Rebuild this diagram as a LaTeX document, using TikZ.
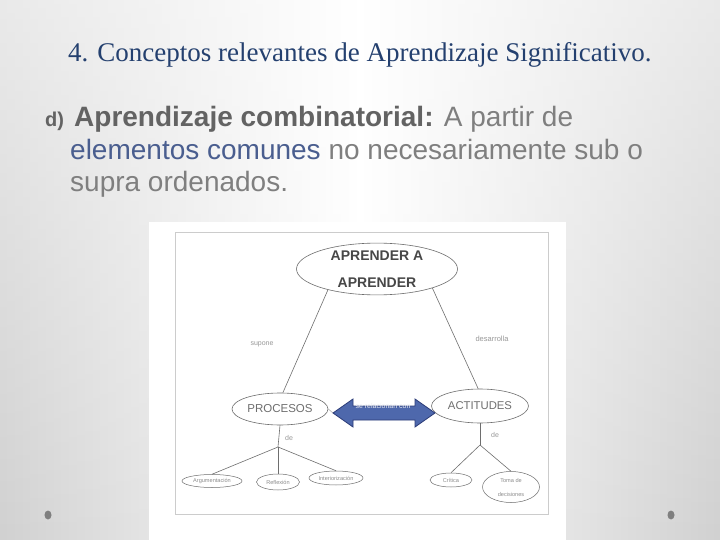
\documentclass[tikz,border=0pt]{standalone}
\usepackage{fontspec}
\setmainfont{Liberation Serif}
\setsansfont{Liberation Sans}
\usetikzlibrary{shapes.geometric,calc,fadings}
\definecolor{titleblue}{HTML}{24406F}
\definecolor{txtgrey}{HTML}{7F7F7F}
\definecolor{boldgrey}{HTML}{636363}
\definecolor{linkblue}{HTML}{4A5E8F}
\definecolor{bggrey}{HTML}{D0D0D0}
\definecolor{diagline}{HTML}{6E6E6E}
\definecolor{arrfill}{HTML}{4E68AC}
\definecolor{arrdraw}{HTML}{2C3C78}
\tikzset{
  conc/.style={ellipse,draw=diagline,line width=0.6pt,inner sep=0pt,font=\sffamily,text=diagline},
  smallc/.style={conc,line width=0.5pt,font=\sffamily\fontsize{5.6}{6}\selectfont,text=txtgrey!90},
  lbl/.style={font=\sffamily\fontsize{7}{8}\selectfont,text=txtgrey!80,inner sep=0pt},
  link/.style={draw=diagline,line width=0.6pt},
  dot/.style={ellipse,fill=txtgrey,inner sep=0pt,minimum width=7pt,minimum height=9pt}
}
\begin{document}
\begin{tikzpicture}[x=1pt,y=-1pt]
\useasboundingbox (0,0) rectangle (720,540);
% background
\shade[left color=bggrey,right color=bggrey,middle color=white] (-5,-5) rectangle (725,545);
\fill[white,opacity=0.55,path fading=south] (-5,-5) rectangle (725,545);
% title
\node[anchor=base west,inner sep=0pt,text=titleblue,font=\fontsize{27}{30}\selectfont] (title) at (68,62) {4. Conceptos relevantes de Aprendizaje Significativo.};
% body text
\node[anchor=base west,inner sep=0pt,text=boldgrey,font=\sffamily\bfseries\fontsize{20}{22}\selectfont] (dd) at (45,127) {d)};
\node[anchor=base west,inner sep=0pt,font=\sffamily\fontsize{28}{32}\selectfont,text=txtgrey] (l1) at (74,127) {\textbf{\color{boldgrey}Aprendizaje combinatorial:} A partir de};
\node[anchor=base west,inner sep=0pt,font=\sffamily\fontsize{28}{32}\selectfont,text=txtgrey] (l2) at (70,160) {{\color{linkblue}elementos comunes} no necesariamente sub o};
\node[anchor=base west,inner sep=0pt,font=\sffamily\fontsize{28}{32}\selectfont,text=txtgrey] (l3) at (70,192) {supra ordenados.};
% picture area
\fill[white] (149,222) rectangle (566,540);
\draw[black!20,line width=0.8pt] (175,232) rectangle (548,514);
% concepts
\node[conc,minimum width=161pt,minimum height=51pt,text=black!72,align=center,font=\sffamily\bfseries\fontsize{14}{27}\selectfont] (apr) at (377,269) {APRENDER A\\APRENDER};
\node[conc,minimum width=96pt,minimum height=32pt,font=\sffamily\fontsize{11.5}{12}\selectfont] (proc) at (280,409) {PROCESOS};
\node[conc,minimum width=97pt,minimum height=34pt,font=\sffamily\fontsize{11.3}{12}\selectfont] (act) at (480,406) {ACTITUDES};
\node[smallc,minimum width=60pt,minimum height=13pt] (argu) at (212,481) {Argumentación};
\node[smallc,minimum width=43pt,minimum height=16pt] (refl) at (278,482) {Reflexión};
\node[smallc,minimum width=54pt,minimum height=14pt] (inte) at (336,478) {Interiorización};
\node[smallc,minimum width=42pt,minimum height=14pt] (crit) at (451,480) {Crítica};
\node[smallc,minimum width=57pt,minimum height=31pt,align=center,font=\sffamily\fontsize{5.6}{14}\selectfont] (toma) at (511,487) {Toma de\\decisiones};
% links from main concept
\draw[link] (apr.203) -- (proc.80);
\draw[link] (apr.341) -- (act.96);
\node[lbl] (sup) at (262,344) {supone};
\node[lbl,font=\sffamily\fontsize{7.5}{8}\selectfont] (des) at (492,339) {desarrolla};
% branches under PROCESOS
\coordinate (jp) at (278,447);
\draw[link] (proc.south) -- (jp);
\draw[link] (jp) -- (argu.north);
\draw[link] (jp) -- (refl.north);
\draw[link] (jp) -- (inte.north);
\node[lbl] (dep) at (289,438) {de};
% branches under ACTITUDES
\coordinate (ja) at (480,445);
\draw[link] (act.south) -- (ja);
\draw[link] (ja) -- (crit.north);
\draw[link] (ja) -- (toma.north);
\node[lbl] (dea) at (495,435) {de};
% double arrow between PROCESOS and ACTITUDES
\coordinate (aL) at (333,413);
\coordinate (aR) at (435,413);
\draw[link,draw=black!30] (proc.east) -- (aL);
\fill[arrfill,draw=arrdraw,line width=0.8pt,line join=miter]
  (aL) -- ($(aL)+(20,-14)$) -- ($(aL)+(20,-7)$) -- ($(aR)+(-20,-7)$) -- ($(aR)+(-20,-14)$)
  -- (aR) -- ($(aR)+(-20,14)$) -- ($(aR)+(-20,7)$) -- ($(aL)+(20,7)$) -- ($(aL)+(20,14)$) -- cycle;
\node[lbl,text=white!88!arrfill,font=\sffamily\fontsize{7}{8}\selectfont] (rel) at (383,406) {se relacionan con};
% slide dots
\node[dot] (d1) at (48,515) {};
\node[dot] (d2) at (671,515) {};
\end{tikzpicture}
\end{document}
